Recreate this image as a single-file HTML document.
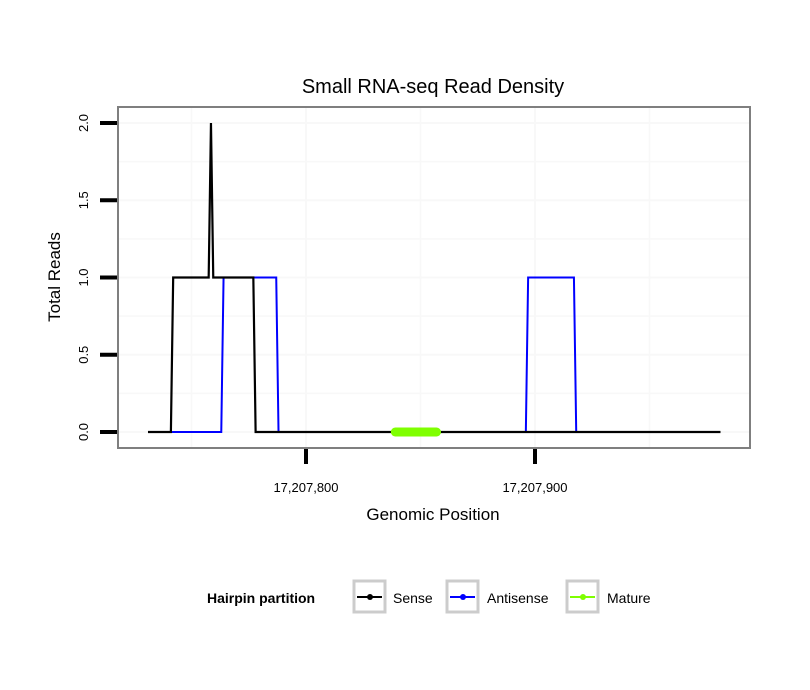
<!DOCTYPE html>
<html><head><meta charset="utf-8"><style>
body{margin:0;background:#fff;}
svg{display:block;font-family:"Liberation Sans",sans-serif;}
</style></head><body>
<svg id="chart" width="810" height="690" xmlns="http://www.w3.org/2000/svg">
<rect width="810" height="690" fill="#fff"/>
<text x="433" y="93" text-anchor="middle" font-size="20" fill="#000">Small RNA-seq Read Density</text>
<g id="grid"></g>
<g id="series"></g>
<rect x="118" y="107" width="632" height="341" fill="none" stroke="#7f7f7f" stroke-width="2"/>
<g id="axes"></g>
<text x="433" y="520" text-anchor="middle" font-size="17">Genomic Position</text>
<text transform="translate(60,277) rotate(-90)" text-anchor="middle" font-size="17">Total Reads</text>
<g>
<text x="207" y="603" font-size="14" font-weight="bold">Hairpin partition</text>
<g>
<rect x="354" y="581" width="31" height="31" fill="#fff" stroke="#ccc" stroke-width="3"/>
<line x1="357" y1="597" x2="382" y2="597" stroke="#000" stroke-width="2"/><circle cx="370" cy="597" r="3" fill="#000"/>
<text x="393" y="603" font-size="14">Sense</text></g>
<g>
<rect x="447" y="581" width="31" height="31" fill="#fff" stroke="#ccc" stroke-width="3"/>
<line x1="450" y1="597" x2="475" y2="597" stroke="#0000ff" stroke-width="2"/><circle cx="463" cy="597" r="3" fill="#0000ff"/>
<text x="487" y="603" font-size="14">Antisense</text></g>
<g>
<rect x="567" y="581" width="31" height="31" fill="#fff" stroke="#ccc" stroke-width="3"/>
<line x1="570" y1="597" x2="595" y2="597" stroke="#7fff00" stroke-width="2"/><circle cx="583" cy="597" r="3" fill="#7fff00"/>
<text x="607" y="603" font-size="14">Mature</text></g>
</g>
</svg>
<script>
const xTicks=[17207800,17207900];
const xTickLabels=["17,207,800","17,207,900"];
const xMinor=[17207750,17207850,17207950];
const yTicks=[0,0.5,1,1.5,2];
const yTickLabels=["0.0","0.5","1.0","1.5","2.0"];
const senseX=[17207731,17207741,17207742,17207757.5,17207758.5,17207759.5,17207777,17207778,17207981];
const senseY=[0,0,1,1,2,1,1,0,0];
const antiX=[17207741,17207763,17207764,17207787,17207788,17207896,17207897,17207917,17207918,17207925];
const antiY=[0,0,1,1,0,0,1,1,0,0];
const matureX=[17207839,17207857];
const matureY=[0,0];
const ns="http://www.w3.org/2000/svg";
function sx(v){return 306+(v-17207800)*2.29;}
function sy(v){return 432-v*154.5;}
function mk(t,a,p){const e=document.createElementNS(ns,t);for(const k in a)e.setAttribute(k,a[k]);p.appendChild(e);return e;}
const grid=document.getElementById('grid'),axes=document.getElementById('axes'),ser=document.getElementById('series');
xMinor.concat(xTicks).forEach(v=>{const l=mk('line',{x1:sx(v),x2:sx(v),y1:107,y2:448,stroke:'#f8f8f8','stroke-width':xTicks.includes(v)?2:1.5},grid);

});
[0.25,0.75,1.25,1.75].concat(yTicks).forEach(v=>{const l=mk('line',{x1:118,x2:750,y1:sy(v),y2:sy(v),stroke:'#f8f8f8','stroke-width':yTicks.includes(v)?2:1.5},grid);

});
xTicks.forEach((v,i)=>{const t=mk('line',{x1:sx(v),x2:sx(v),y1:449,y2:464,stroke:'#000','stroke-width':4},axes);


const tx=mk('text',{x:sx(v),y:492,'text-anchor':'middle','font-size':13},axes);tx.textContent=xTickLabels[i];

});
yTicks.forEach((v,i)=>{const t=mk('line',{x1:100,x2:117,y1:sy(v),y2:sy(v),stroke:'#000','stroke-width':4},axes);


const tx=mk('text',{transform:`translate(88,${sy(v)}) rotate(-90)`,'text-anchor':'middle','font-size':13},axes);tx.textContent=yTickLabels[i];

});
function line(xs,ys,c,w,name,cap){const p=mk('polyline',{points:xs.map((x,i)=>sx(x)+','+sy(ys[i])).join(' '),fill:'none',stroke:c,'stroke-width':w,'stroke-linecap':cap||'butt'},ser);

}
line(antiX,antiY,'#0000ff',2,'antisense-line');
line(senseX,senseY,'#000',2.2,'sense-line');
line(matureX,matureY,'#7fff00',9,'mature-line','round');
</script>
</body></html>
